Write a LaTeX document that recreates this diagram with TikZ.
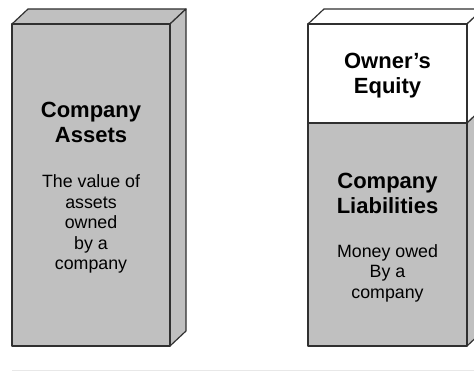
\documentclass[tikz,border=0pt]{standalone}
\usepackage{fontspec}
\setmainfont{Liberation Sans}
\definecolor{boxgray}{HTML}{C0C0C0}
\definecolor{edgegray}{HTML}{303030}
\definecolor{rulegray}{HTML}{E8E8E8}

\begin{document}
\begin{tikzpicture}[x=1pt,y=-1pt,
  face/.style={draw=edgegray,line width=1.2pt,line join=round},
  title/.style={align=center,font=\fontsize{22}{25}\selectfont\bfseries},
  descr/.style={align=center,font=\fontsize{17.8}{20.6}\selectfont}]
\useasboundingbox (0,0) rectangle (474,371);
% assets block
\path[face,fill=boxgray] (12,24) -- (28,9) -- (186,9) -- (170,24) -- cycle;
\path[face,fill=boxgray] (170,24) -- (186,9) -- (186,331) -- (170,346) -- cycle;
\path[face,fill=boxgray] (12,24) rectangle (170,346);
\node[title] (assets) at (91,122) {Company\\Assets};
\node[descr] (assets-descr) at (91,224) {The value of\\assets\\owned\\by a\\company};
% equity and liabilities block
\path[face,fill=white] (308,24) -- (324,9) -- (483,9) -- (467,24) -- cycle;
\path[face,fill=white] (467,24) -- (483,9) -- (483,108) -- (467,123) -- cycle;
\path[face,fill=boxgray] (467,123) -- (483,108) -- (483,331) -- (467,346) -- cycle;
\path[face,fill=white] (308,24) rectangle (467,123);
\path[face,fill=boxgray] (308,123) rectangle (467,346);
\node[title] (equity) at (387.5,76) {Owner’s\\Equity};
\node[title] (liab) at (387.5,193) {Company\\Liabilities};
\node[descr] (liab-descr) at (387.5,273) {Money owed\\By a\\company};
% base line
\draw[rulegray,line width=1pt] (12,370) -- (474,370);
\end{tikzpicture}
\end{document}
